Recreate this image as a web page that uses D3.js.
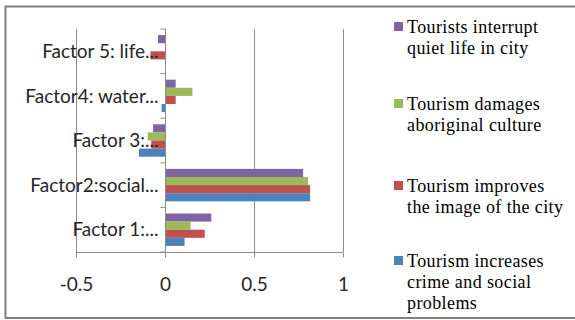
<!DOCTYPE html>
<html>
<head>
<meta charset="utf-8">
<script src="https://cdn.jsdelivr.net/npm/d3@7"></script>
<style>
  html, body { margin: 0; padding: 0; background: #fff; }
  svg { display: block; }
</style>
</head>
<body>
<svg id="chart" width="575" height="320"></svg>
<script>
// Factor categories, listed bottom to top as they sit on the axis
const categories = ["Factor 1:...", "Factor2:social...", "Factor 3:...", "Factor4: water...", "Factor 5: life..."];

// Series names and colours, listed in the order the bars stack inside a group (top to bottom)
const seriesNames = [
  "Tourists interrupt quiet life in city",
  "Tourism damages aboriginal culture",
  "Tourism improves the image of the city",
  "Tourism increases crime and social problems"
];
const seriesColors = ["#8064A2", "#9BBB59", "#C0504D", "#4F81BD"];

// Loadings per series, one value per category (Factor 1 .. Factor 5)
const quietLife   = [0.26, 0.776, -0.067, 0.06, -0.04];
const aboriginal  = [0.144, 0.804, -0.097, 0.154, 0.0];
const cityImage   = [0.223, 0.815, -0.077, 0.06, -0.082];
const crime       = [0.11, 0.815, -0.146, -0.019, 0.0];
const seriesValues = [quietLife, aboriginal, cityImage, crime];

// Legend text split into the lines it wraps to
const legendLines = [
  ["Tourists interrupt", "quiet life in city"],
  ["Tourism damages", "aboriginal culture"],
  ["Tourism improves", "the image of the city"],
  ["Tourism increases", "crime and social", "problems"]
];

const xTicks = [-0.5, 0, 0.5, 1];

const svg = d3.select("#chart");

// Outer frame
svg.append("rect")
  .attr("x", 5.5).attr("y", 6.5)
  .attr("width", 600).attr("height", 311.5)
  .attr("fill", "none")
  .attr("stroke", "#808080")
  .attr("stroke-width", 2);

const plot = { left: 76, right: 343, top: 29, bottom: 252 };

const x = d3.scaleLinear().domain([-0.5, 1]).range([plot.left, plot.right]);

const y = d3.scaleBand()
  .domain(categories)
  .range([plot.bottom, plot.top])
  .paddingInner(0).paddingOuter(0);

const ySeries = d3.scaleBand()
  .domain(d3.range(seriesNames.length))
  .range([0, y.bandwidth()])
  .paddingInner(0)
  .paddingOuter(0.75);

// Vertical gridlines
svg.append("g")
  .selectAll("line")
  .data(xTicks.filter(t => t !== 0))
  .join("line")
  .attr("x1", d => Math.round(x(d)) + 0.5)
  .attr("x2", d => Math.round(x(d)) + 0.5)
  .attr("y1", plot.top)
  .attr("y2", plot.bottom)
  .attr("stroke", "#8c8c8c")
  .attr("stroke-width", 1);

// Bars
const groups = svg.append("g")
  .selectAll("g")
  .data(categories)
  .join("g")
  .attr("transform", d => `translate(0,${y(d)})`);

groups.selectAll("rect")
  .data((c, ci) => seriesValues.map((vals, si) => ({ si, v: vals[ci] })))
  .join("rect")
  .attr("x", d => Math.min(x(0), x(d.v)))
  .attr("width", d => Math.abs(x(d.v) - x(0)))
  .attr("y", d => ySeries(d.si))
  .attr("height", ySeries.bandwidth())
  .attr("fill", d => seriesColors[d.si]);

// Horizontal value axis along the bottom (plain hyphen for negatives)
const xAxis = d3.axisBottom(x)
  .tickValues(xTicks)
  .tickSize(5)
  .tickFormat(d => String(d));

const gx = svg.append("g")
  .attr("transform", `translate(0,${plot.bottom + 0.5})`)
  .call(xAxis);
gx.select(".domain").attr("stroke", "#8c8c8c").attr("d", `M${plot.left},0H${plot.right}`);
gx.selectAll(".tick line").attr("stroke", "#8c8c8c");
gx.selectAll(".tick text")
  .attr("y", 25)
  .attr("dy", "0.71em")
  .attr("fill", "#262626")
  .style("font-family", "Lato, 'Open Sans', sans-serif")
  .style("font-size", "19px");

// Category axis at zero
const gy = svg.append("g")
  .attr("transform", `translate(${Math.round(x(0)) + 0.5},0)`);

gy.append("line")
  .attr("y1", plot.top).attr("y2", plot.bottom + 5)
  .attr("stroke", "#8c8c8c");

gy.selectAll("line.cat-tick")
  .data(d3.range(categories.length + 1))
  .join("line")
  .attr("class", "cat-tick")
  .attr("x1", -5).attr("x2", 0)
  .attr("y1", i => plot.bottom - i * y.step())
  .attr("y2", i => plot.bottom - i * y.step())
  .attr("stroke", "#8c8c8c");

gy.selectAll("text")
  .data(categories)
  .join("text")
  .attr("x", -7)
  .attr("y", d => y(d) + y.bandwidth() / 2)
  .attr("dy", "0.35em")
  .attr("text-anchor", "end")
  .attr("fill", "#262626")
  .style("font-family", "Lato, 'Open Sans', sans-serif")
  .style("font-size", "19px")
  .text(d => d);

// Legend
const legendBaselines = [[33, 54], [110, 131], [192, 213], [267, 288, 309]];
const legend = svg.append("g");
legendLines.forEach((lines, i) => {
  const base = legendBaselines[i];
  legend.append("rect")
    .attr("x", 394).attr("y", base[0] - 11)
    .attr("width", 9).attr("height", 9)
    .attr("fill", seriesColors[i]);
  lines.forEach((t, j) => {
    legend.append("text")
      .attr("x", 407).attr("y", base[j])
      .attr("fill", "#000")
      .style("font-family", "'Liberation Serif', 'Times New Roman', serif")
      .style("font-size", "18px")
      .style("letter-spacing", "0.4px")
      .text(t);
  });
});
</script>
</body>
</html>
